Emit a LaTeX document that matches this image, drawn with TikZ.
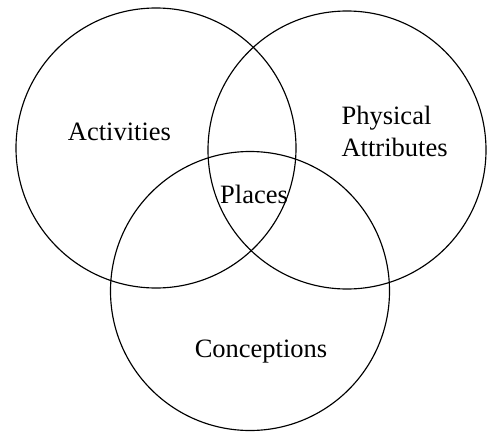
\documentclass[tikz,border=0pt]{standalone}
\usepackage{fontspec}
\setmainfont{Liberation Serif}
\begin{document}
\begin{tikzpicture}[x=1pt,y=-1pt,line width=1.15pt,font=\fontsize{26.5}{32}\selectfont,
	lbl/.style={inner sep=0pt,anchor=base}]
	\useasboundingbox (0,0) rectangle (487,431);
	% the three sets
	\draw (156,148) circle[radius=140pt];
	\draw (347,150) circle[radius=139pt];
	\draw (250,291) circle[radius=139.5pt];
	% labels
	\node[lbl] (act) at (119.5,140) {Activities};
	\node[lbl,anchor=base west] (phys) at (341,124) {Physical};
	\node[lbl,anchor=base west] (attr) at (341,156) {Attributes};
	\node[lbl] (plc) at (254,203) {Places};
	\node[lbl] (conc) at (261,357) {Conceptions};
\end{tikzpicture}
\end{document}
